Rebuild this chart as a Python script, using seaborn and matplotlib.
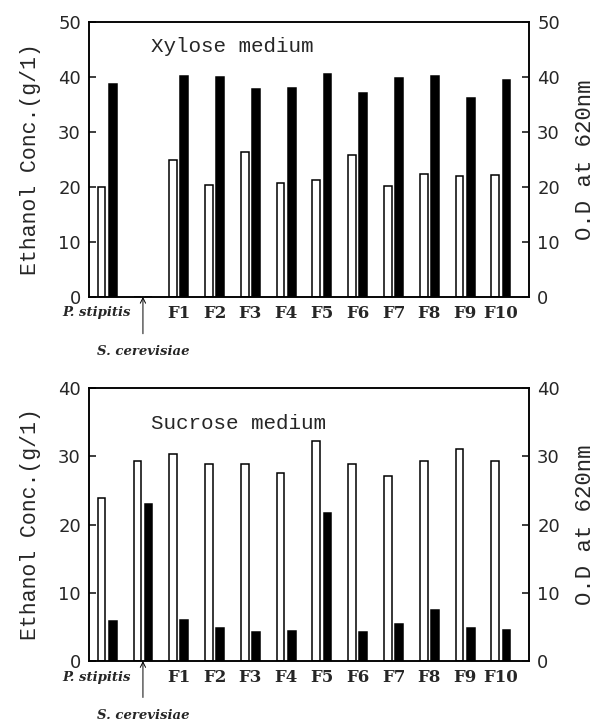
import matplotlib
matplotlib.use("Agg")
import matplotlib.pyplot as plt
import seaborn as sns
import pandas as pd
import numpy as np

strains = ["P. stipitis", "S. cerevisiae", "F1", "F2", "F3", "F4", "F5",
           "F6", "F7", "F8", "F9", "F10"]

xyl_ethanol = [19.9, 0, 24.8, 20.4, 26.4, 20.6, 21.3, 25.8, 20.2, 22.4, 21.9, 22.2]
xyl_od = [38.7, 0, 40.1, 39.9, 37.8, 38.0, 40.5, 37.0, 39.8, 40.2, 36.1, 39.4]

suc_ethanol = [23.9, 29.3, 30.3, 28.9, 28.9, 27.5, 32.2, 28.9, 27.1, 29.3, 31.0, 29.3]
suc_od = [5.8, 23.0, 6.0, 4.9, 4.2, 4.4, 21.7, 4.3, 5.4, 7.5, 4.9, 4.5]

panels = [
    ("Xylose medium", xyl_ethanol, xyl_od, 50, [0, 10, 20, 30, 40, 50]),
    ("Sucrose medium", suc_ethanol, suc_od, 40, [0, 10, 20, 30, 40]),
]

sns.set_theme(style="white")
plt.rcParams["font.family"] = ["DejaVu Sans"]

fig = plt.figure(figsize=(6.03, 7.24), dpi=100)
rects = [[0.148, 0.590, 0.729, 0.380], [0.148, 0.087, 0.729, 0.377]]
title_y = [0.91, 0.87]

mono = "Liberation Mono"
serif = "DejaVu Serif"

for (title, eth, od, ymax, yt), rect, ty in zip(panels, rects, title_y):
    ax = fig.add_axes(rect)
    df = pd.DataFrame({
        "strain": strains * 2,
        "measure": ["Ethanol"] * len(strains) + ["OD"] * len(strains),
        "value": list(eth) + list(od),
    })
    sns.barplot(data=df, x="strain", y="value", hue="measure",
                order=strains, hue_order=["Ethanol", "OD"],
                palette={"Ethanol": "white", "OD": "black"},
                edgecolor="black", linewidth=1.1, width=0.62, gap=0.3,
                legend=False, ax=ax, errorbar=None)
    ax.set_xlim(-0.5, 11.78)
    ax.set_ylim(0, ymax)
    ax.set_yticks(yt)
    ax.tick_params(axis="y", direction="in", length=5, labelsize=13,
                   left=True, pad=6)
    for s in ax.spines.values():
        s.set_color("black")
        s.set_linewidth(1.1)
    ax.set_xlabel("")
    ax.set_ylabel("Ethanol Conc.(g/1)", fontsize=15.5, family=mono)
    ax.yaxis.set_label_coords(-0.11, 0.5)

    # x tick labels
    ax.set_xticks(range(2, len(strains)))
    ax.set_xticklabels(strains[2:], fontsize=12, fontweight="bold", family=serif)
    ax.tick_params(axis="x", length=0, pad=6)
    ax.text(0.67, -0.035, strains[0], transform=ax.get_xaxis_transform(),
            ha="right", va="top", fontsize=9.5, fontweight="bold",
            style="italic", family=serif)
    ax.annotate(strains[1], xy=(1.0, 0), xycoords=ax.get_xaxis_transform(),
                xytext=(1.0, -0.2), textcoords=ax.get_xaxis_transform(),
                ha="center", va="center", fontsize=9.5, fontweight="bold",
                style="italic", family=serif,
                arrowprops=dict(arrowstyle="->", color="black", lw=0.7,
                                shrinkA=6, shrinkB=0))

    ax.text(0.14, ty, title, transform=ax.transAxes, fontsize=15,
            family=mono, ha="left", va="center")

    ax2 = ax.twinx()
    ax2.set_ylim(0, ymax)
    ax2.set_yticks(yt)
    ax2.tick_params(axis="y", direction="in", length=5, labelsize=13,
                    right=True, pad=6)
    ax2.set_ylabel("O.D at 620nm", fontsize=16, family=mono)
    ax2.yaxis.set_label_coords(1.105, 0.5)
    ax2.grid(False)
    for s in ax2.spines.values():
        s.set_color("black")
        s.set_linewidth(1.1)

fig.savefig("out.png", dpi=100, facecolor="white")
